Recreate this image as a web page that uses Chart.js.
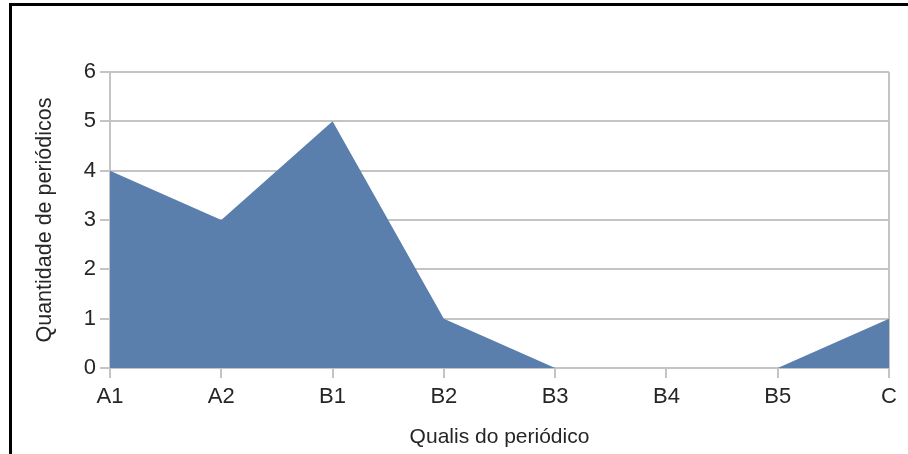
<!DOCTYPE html>
<html>
<head>
<meta charset="utf-8">
<script src="https://cdn.jsdelivr.net/npm/chart.js@4/dist/chart.umd.min.js"></script>
<style>
    html, body { margin: 0; padding: 0; background: #fff; }
    #wrap { position: relative; width: 908px; height: 454px; }
    #frame {
        position: absolute; left: 9px; top: 3px; right: 0; bottom: 0;
        border-top: 3px solid #000; border-left: 3px solid #000;
        pointer-events: none;
    }
</style>
</head>
<body>
<div id="wrap">
    <canvas id="qualisChart" width="908" height="454"></canvas>
    <div id="frame"></div>
</div>
<script>
// Quantidade de periódicos por estrato Qualis
const categories = ['A1', 'A2', 'B1', 'B2', 'B3', 'B4', 'B5', 'C'];
const periodicos = [4, 3, 5, 1, 0, 0, 0, 1];
const yTicks = [0, 1, 2, 3, 4, 5, 6];

const gridGrey = '#c4c4c4';
const textColor = '#262626';

Chart.defaults.font.family = "'Liberation Sans', Arial, sans-serif";
Chart.defaults.color = textColor;

new Chart(document.getElementById('qualisChart'), {
    type: 'line',
    data: {
        labels: categories,
        datasets: [{
            data: periodicos,
            fill: 'origin',
            backgroundColor: '#5a7fad',
            borderColor: '#5a7fad',
            borderWidth: 0,
            pointRadius: 0,
            tension: 0
        }]
    },
    options: {
        responsive: false,
        animation: false,
        layout: { padding: { top: 72, left: 10, right: 19, bottom: 0 } },
        plugins: { legend: { display: false }, tooltip: { enabled: false } },
        scales: {
            x: {
                offset: false,
                afterFit: s => { s.height = 86; },
                grid: {
                    // only the right-hand edge shows as a vertical line
                    color: c => c.index === categories.length - 1 ? gridGrey : 'rgba(0,0,0,0)',
                    tickColor: gridGrey,
                    tickLength: 10,
                    lineWidth: 2
                },
                border: { color: gridGrey, width: 2 },
                ticks: { font: { size: 22 }, padding: 6, maxRotation: 0, autoSkip: false },
                title: {
                    display: true,
                    text: 'Qualis do periódico',
                    font: { size: 21 },
                    padding: { top: 0, bottom: 4 }
                }
            },
            y: {
                min: 0,
                max: 6,
                afterFit: s => { s.width = 100; },
                afterBuildTicks: s => { s.ticks = yTicks.map(v => ({ value: v })); },
                grid: { color: gridGrey, tickColor: gridGrey, tickLength: 10, lineWidth: 2 },
                border: { color: gridGrey, width: 2 },
                ticks: { font: { size: 22 }, padding: 4 },
                title: {
                    display: true,
                    text: 'Quantidade de periódicos',
                    font: { size: 21.5 },
                    padding: { top: 22, bottom: 0 }
                }
            }
        }
    }
});
</script>
</body>
</html>
